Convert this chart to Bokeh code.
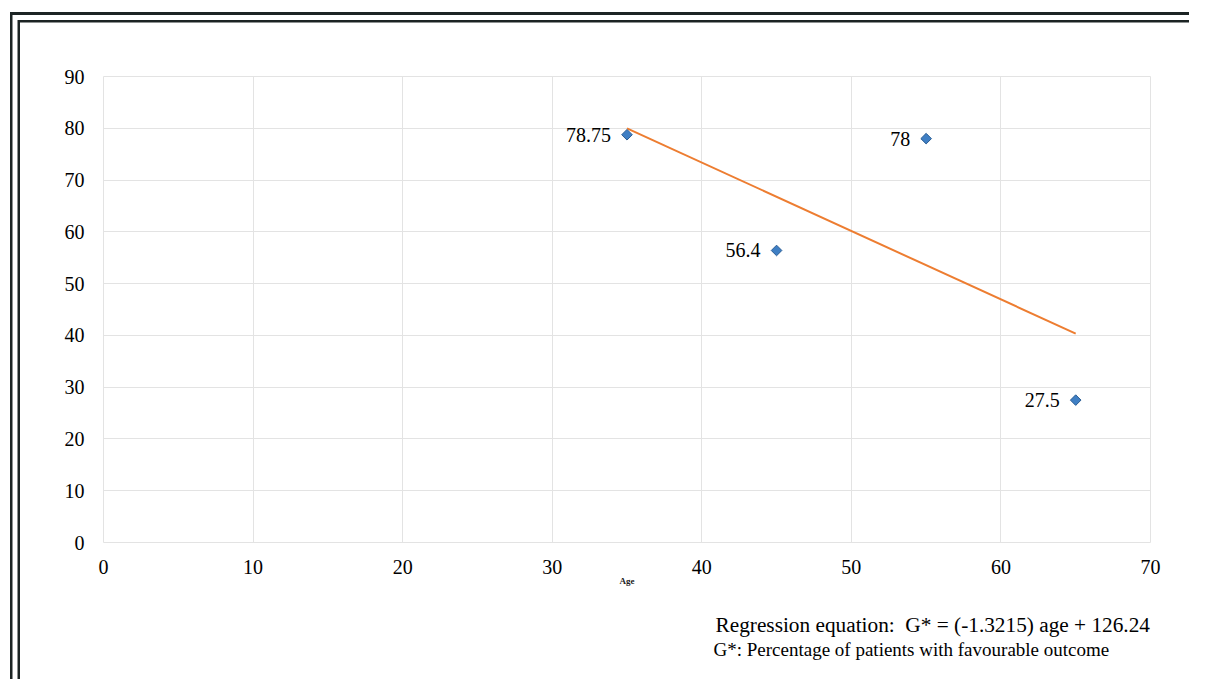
from bokeh.plotting import figure
from bokeh.models import (ColumnDataSource, LabelSet, Range1d, FixedTicker, Title)
from bokeh.embed import file_html
from bokeh.resources import INLINE
from bokeh.core.properties import value

# ---- data ----
ages = [35, 45, 55, 65]
favourable = [78.75, 56.4, 78, 27.5]
point_labels = ["78.75", "56.4", "78", "27.5"]
slope = -1.3215
intercept = 126.24
line_ages = [35, 65]
x_ticks = [0, 10, 20, 30, 40, 50, 60, 70]
y_ticks = [0, 10, 20, 30, 40, 50, 60, 70, 80, 90]
x_title = "Age"
eq_line1 = "Regression equation:\u00a0 G* = (-1.3215) age + 126.24"
eq_line2 = "G*: Percentage of patients with favourable outcome"

SERIF = "Liberation Serif"
GRID = "#e3e3e3"
FRAME = "#1c2424"

p = figure(width=1189, height=679, output_backend="svg", toolbar_location=None,
           x_range=Range1d(0, 70), y_range=Range1d(0, 90),
           min_border_left=103, min_border_right=39, min_border_top=76,
           min_border_bottom=137)
p.background_fill_color = "white"
p.border_fill_alpha = 0
p.outline_line_color = GRID
p.outline_line_width = 1
p.styles = {
    "box-shadow": (f"inset 10px 12px 0 0 white, inset 12.5px 15px 0 0 {FRAME}, "
                   f"inset 17.5px 20px 0 0 white, inset 20px 22.5px 0 0 {FRAME}"),
    "background-color": "white",
}

for ax in (p.xaxis, p.yaxis):
    ax.axis_line_color = None
    ax.major_tick_line_color = None
    ax.minor_tick_line_color = None
    ax.major_tick_in = 0
    ax.major_tick_out = 0
    ax.major_label_text_font = SERIF
    ax.major_label_text_font_size = "20px"
    ax.major_label_text_color = "black"
p.xaxis.ticker = FixedTicker(ticks=x_ticks)
p.yaxis.ticker = FixedTicker(ticks=y_ticks)
p.xaxis.major_label_standoff = 17
p.yaxis.major_label_standoff = 19

p.xaxis.axis_label = x_title
p.xaxis.axis_label_text_font = SERIF
p.xaxis.axis_label_text_font_size = "9px"
p.xaxis.axis_label_text_font_style = "bold"
p.xaxis.axis_label_text_color = "#222222"
p.xaxis.axis_label_standoff = -1

p.xgrid.ticker = FixedTicker(ticks=x_ticks)
p.ygrid.ticker = FixedTicker(ticks=y_ticks)
p.xgrid.grid_line_color = GRID
p.ygrid.grid_line_color = GRID

# regression line
line_vals = [slope * a + intercept for a in line_ages]
p.line(line_ages, line_vals, line_color="#ed7d31", line_width=2)

# points
src = ColumnDataSource(dict(x=ages, y=favourable, t=point_labels))
p.scatter("x", "y", source=src, marker="square", angle=0.785398, size=7.5,
          fill_color="#3f7fc4", line_color="#2a5d94", line_width=1)
p.add_layout(LabelSet(x="x", y="y", text="t", source=src, x_offset=-16, y_offset=0,
                      text_align="right", text_baseline="middle",
                      text_font=value(SERIF), text_font_size="20px",
                      text_color="black"))

# spacer between axis and the equation text
p.add_layout(Title(text="\u00a0", standoff=18, text_font=SERIF,
                   text_font_size="2px", text_color="white"), "below")
# regression equation text below the chart
p.add_layout(Title(text=eq_line1, align="left", offset=612, standoff=0,
                   text_font=SERIF, text_font_size="21.3px",
                   text_font_style="normal", text_color="black"), "below")
p.add_layout(Title(text=eq_line2, align="left", offset=610, standoff=0,
                   text_font=SERIF, text_font_size="19px",
                   text_font_style="normal", text_color="black"), "below")

open("out.html", "w").write(file_html(p, INLINE))
